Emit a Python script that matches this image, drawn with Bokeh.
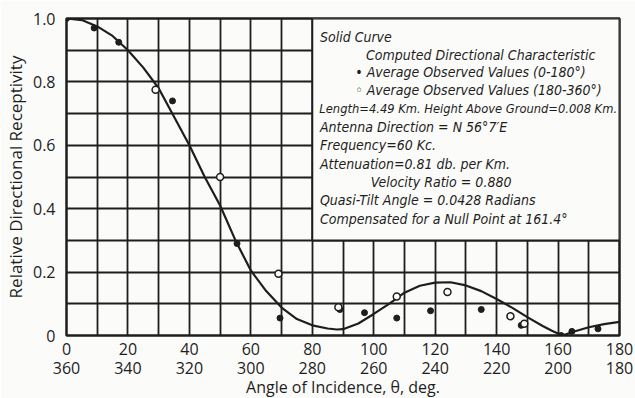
from bokeh.plotting import figure
from bokeh.models import FixedTicker, Range1d, Title
from bokeh.core.properties import value
from bokeh.embed import file_html
from bokeh.resources import INLINE

# Computed directional characteristic (solid curve)
curve_deg = [0, 5, 10, 15, 20, 25, 30, 35, 40, 45, 50, 55, 60, 65, 70, 75, 80, 85, 88, 90,
             95, 100, 105, 110, 115, 120, 125, 130, 135, 140, 145, 150, 155, 158, 161.4,
             165, 170, 175, 180]
curve_val = [1.0, 0.995, 0.975, 0.945, 0.90, 0.845, 0.78, 0.69, 0.60, 0.50, 0.41, 0.30, 0.205,
             0.14, 0.088, 0.052, 0.032, 0.022, 0.019, 0.02, 0.038, 0.068, 0.10, 0.135, 0.157,
             0.167, 0.168, 0.158, 0.14, 0.115, 0.088, 0.058, 0.03, 0.015, 0.0, 0.012, 0.026,
             0.036, 0.043]

# Average observed values (0-180 deg), filled dots
filled_deg = [0, 9, 17, 34.5, 55.5, 69.5, 89, 97, 107.5, 118.5, 135, 148, 161, 164.5, 173]
filled_val = [1.0, 0.97, 0.925, 0.74, 0.29, 0.055, 0.082, 0.072, 0.055, 0.078, 0.082, 0.032,
              0.0, 0.013, 0.021]

# Average observed values (180-360 deg), open circles
open_deg = [29, 50, 69, 88.5, 107.5, 124, 144.5, 149]
open_val = [0.775, 0.50, 0.195, 0.089, 0.123, 0.137, 0.061, 0.037]

# Axis ticks
x_ticks = [0, 20, 40, 60, 80, 100, 120, 140, 160, 180]
x_labels_top = ["0", "20", "40", "60", "80", "100", "120", "140", "160", "180"]
x_labels_bottom = ["360", "340", "320", "300", "280", "260", "240", "220", "200", "180"]
y_ticks = [0, 0.2, 0.4, 0.6, 0.8, 1.0]
y_labels = ["0", "0.2", "0.4", "0.6", "0.8", "1.0"]

# Legend / notes box text
note_lines = [
    "Solid Curve",
    "Computed Directional Characteristic",
    "\u2022 Average Observed Values (0-180\u00b0)",
    "\u25e6 Average Observed Values (180-360\u00b0)",
    "Antenna Direction = N 56\u00b07\u2032E",
    "Frequency=60 Kc.",
    "Attenuation=0.81 db. per Km.",
    "Velocity Ratio = 0.880",
    "Quasi-Tilt Angle = 0.0428 Radians",
    "Compensated for a Null Point at 161.4\u00b0",
]
note_x = [82.5, 97.5, 94.0, 94.0, 82.5, 82.5, 82.5, 99.0, 82.5, 82.5]
note_y = [0.942, 0.884, 0.832, 0.774, 0.658, 0.600, 0.542, 0.485, 0.426, 0.368]
length_line = ["Length=4.49 Km. Height Above Ground=0.008 Km."]
length_x = [82.3]
length_y = [0.716]

INK = "#1e1e1e"
PAPER = "#fbfbf9"
FONT = "Open Sans"
NOTE_FONT = "DejaVu Sans Condensed, Liberation Sans, sans-serif"

p = figure(width=635, height=398, output_backend="svg", toolbar_location=None,
           x_range=Range1d(0, 180), y_range=Range1d(0, 1.0),
           min_border_top=18, min_border_right=16, min_border_bottom=63, min_border_left=59)
p.background_fill_color = PAPER
p.border_fill_color = PAPER
p.outline_line_color = INK
p.outline_line_width = 2.5

# grid: every 10 deg and every 0.1
p.xgrid.ticker = FixedTicker(ticks=list(range(0, 181, 10)))
p.ygrid.ticker = FixedTicker(ticks=[i / 10 for i in range(11)])
for g in (p.xgrid, p.ygrid):
    g.grid_line_color = INK
    g.grid_line_width = 1.8
    g.grid_line_alpha = 1.0

# axes
p.xaxis.ticker = FixedTicker(ticks=x_ticks)
p.xaxis.major_label_overrides = {t: a + "\n" + b for t, a, b in zip(x_ticks, x_labels_top, x_labels_bottom)}
p.yaxis.ticker = FixedTicker(ticks=y_ticks)
p.yaxis.major_label_overrides = dict(zip(y_ticks, y_labels))
for ax in (p.xaxis, p.yaxis):
    ax.axis_line_color = None
    ax.major_tick_line_color = None
    ax.minor_tick_line_color = None
    ax.major_label_text_font = FONT
    ax.major_label_text_font_size = "16px"
    ax.major_label_text_color = INK
    ax.axis_label_text_font = FONT
    ax.axis_label_text_font_style = "normal"
    ax.axis_label_text_color = INK
p.xaxis.major_label_standoff = -4
p.xaxis.major_label_text_line_height = 0.9
p.yaxis.major_label_standoff = 5
p.yaxis.axis_label = "Relative Directional Receptivity"
p.yaxis.axis_label_text_font_size = "17px"
p.yaxis.axis_label_standoff = 3

# x axis title (sits left of centre in the original)
p.add_layout(Title(text="Angle of Incidence, \u03b8, deg.", align="center", offset=-23,
                   standoff=-14, vertical_align="top", text_font=FONT, text_font_size="16px",
                   text_font_style="normal", text_color=INK), "below")

# notes box (white panel over the grid)
p.quad(left=[80], right=[180], bottom=[0.3], top=[1.0], fill_color=PAPER,
       line_color=INK, line_width=2)
p.text(x=note_x, y=note_y, text=note_lines, text_font=value(NOTE_FONT),
       text_font_style="italic", text_font_size="14px", text_baseline="middle",
       text_align="left", text_color=INK)
p.text(x=length_x, y=length_y, text=length_line, text_font=value(NOTE_FONT),
       text_font_style="italic", text_font_size="12.8px", text_baseline="middle",
       text_align="left", text_color=INK)

# curve and observations
p.line(curve_deg, curve_val, line_color=INK, line_width=2.2)
p.scatter(filled_deg, filled_val, marker="circle", size=6, fill_color=INK, line_color=INK)
p.scatter(open_deg, open_val, marker="circle", size=7, fill_color=PAPER, line_color=INK,
          line_width=1.5)

open("out.html", "w").write(file_html(p, INLINE))
